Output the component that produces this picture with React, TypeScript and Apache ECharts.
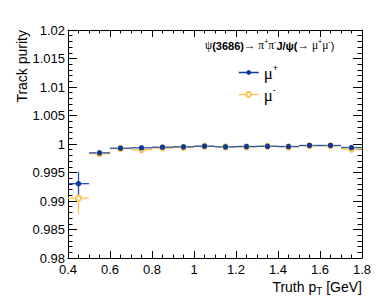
import React, { useEffect, useRef } from "react";
import * as echarts from "echarts";

// ---- data ----
const binCenters = [0.45, 0.55, 0.65, 0.75, 0.85, 0.95, 1.05, 1.15, 1.25, 1.35, 1.45, 1.55, 1.65, 1.75];
const binHalfWidth = 0.05;
const muPlusPurity = [0.99304, 0.99845, 0.99926, 0.99933, 0.99944, 0.99951, 0.99961, 0.9995, 0.99956, 0.9996, 0.99956, 0.99974, 0.99974, 0.99938];
const muPlusError = [0.0021, 0.0002, 0.0001, 0.0001, 0.0001, 0.0001, 0.0001, 0.0001, 0.0001, 0.0001, 0.0001, 0.0001, 0.0001, 0.0002];
const muMinusPurity = [0.9905, 0.9983, 0.9992, 0.999, 0.9993, 0.9994, 0.9996, 0.9995, 0.9995, 0.9996, 0.9995, 0.9997, 0.9997, 0.9991];
const muMinusError = [0.0028, 0.0003, 0.0001, 0.0001, 0.0001, 0.0001, 0.0001, 0.0001, 0.0001, 0.0001, 0.0001, 0.0001, 0.0001, 0.0005];
const xTickLabels = ["0.4", "0.6", "0.8", "1", "1.2", "1.4", "1.6", "1.8"];
const yTickLabels = ["0.98", "0.985", "0.99", "0.995", "1", "1.005", "1.01", "1.015", "1.02"];

const BLUE = "#0b3c9c";
const BLUE_BAR = "#2a52ad";
const YELLOW = "#fcc54f";

function errorBarSeries(name: string, vals: number[], errs: number[], color: string) {
  return {
    type: "custom",
    name,
    xAxisIndex: 0,
    yAxisIndex: 0,
    silent: true,
    data: binCenters.map((c, i) => [c, vals[i], errs[i], binHalfWidth]),
    renderItem: (params: any, api: any) => {
      const x = api.value(0);
      const y = api.value(1);
      const e = api.value(2);
      const w = api.value(3);
      const l = api.coord([x - w, y]);
      const r = api.coord([x + w, y]);
      const t = api.coord([x, y + e]);
      const b = api.coord([x, y - e]);
      return {
        type: "group",
        children: [
          { type: "line", shape: { x1: l[0], y1: l[1], x2: r[0], y2: r[1] }, style: { stroke: color, lineWidth: 1.3 } },
          { type: "line", shape: { x1: t[0], y1: t[1], x2: b[0], y2: b[1] }, style: { stroke: color, lineWidth: 1.3 } },
        ],
      };
    },
  };
}

function axisCommon(showLabel: boolean, isX: boolean) {
  return {
    type: "value",
    axisLine: { show: true, onZero: false, lineStyle: { color: "#000", width: 1 } },
    axisTick: { show: true, inside: true, length: isX ? 7 : 9, lineStyle: { color: "#000", width: 1 } },
    minorTick: { show: true, splitNumber: isX ? 4 : 5, length: isX ? 3.5 : 4.5, lineStyle: { color: "#000", width: 1 } },
    splitLine: { show: false },
    minorSplitLine: { show: false },
    axisLabel: {
      show: showLabel,
      color: "#000",
      fontSize: 13,
      fontFamily: "Liberation Sans, Arial, sans-serif",
      margin: isX ? 5 : 3,
      formatter: (v: number) => {
        const labels = isX ? xTickLabels : yTickLabels;
        const s = String(parseFloat(v.toFixed(4)));
        return labels.indexOf(s) >= 0 ? s : "";
      },
    },
  };
}

export default function App() {
  const ref = useRef<HTMLDivElement>(null);
  useEffect(() => {
    if (!ref.current) return;
    const chart = echarts.init(ref.current, undefined, { renderer: "svg" });
    const xBase = { min: 0.4, max: 1.8, interval: 0.2 };
    const yBase = { min: 0.98, max: 1.02, interval: 0.005 };
    const sans = "Liberation Sans, Arial, sans-serif";
    const serif = "Liberation Serif, DejaVu Serif, serif";
    chart.setOption({
      animation: false,
      backgroundColor: "#fff",
      grid: { left: 68, right: 19, top: 30, bottom: 45, containLabel: false },
      xAxis: [
        { ...axisCommon(true, true), ...xBase, position: "bottom" },
        { ...axisCommon(false, true), ...xBase, position: "top" },
      ],
      yAxis: [
        { ...axisCommon(true, false), ...yBase, position: "left" },
        { ...axisCommon(false, false), ...yBase, position: "right" },
      ],
      legend: {
        orient: "vertical",
        left: 233,
        top: 58,
        itemWidth: 20,
        itemHeight: 6,
        itemGap: 3,
        data: [
          { name: "μ+", lineStyle: { opacity: 1, width: 1.5, color: BLUE }, itemStyle: { color: BLUE } },
          { name: "μ-", lineStyle: { opacity: 1, width: 1.5, color: YELLOW } },
        ],
        formatter: (name: string) => (name === "μ+" ? "{m|μ}{s|+}" : "{m|μ}{s|-}"),
        textStyle: {
          color: "#000",
          rich: {
            m: { fontSize: 17, fontFamily: serif, color: "#000", verticalAlign: "bottom" },
            s: { fontSize: 9, fontFamily: sans, color: "#000", padding: [0, 0, 10, 0], verticalAlign: "bottom" },
          },
        },
      },
      graphic: [
        {
          type: "text",
          x: 22,
          y: 30,
          rotation: Math.PI / 2,
          style: { text: "Track purity", fontSize: 14, fontFamily: sans, fill: "#000", align: "right", verticalAlign: "middle" },
        },
        {
          type: "text",
          x: 362,
          y: 277,
          style: {
            text: "Truth p{sub|T} [GeV]",
            fontSize: 14,
            fontFamily: sans,
            fill: "#000",
            align: "right",
            verticalAlign: "top",
            rich: {
              sub: { fontSize: 10, fontFamily: sans, fill: "#000", padding: [9, 0, 0, 0], verticalAlign: "top" },
            },
          },
        },
        {
          type: "text",
          x: 205,
          y: 44.5,
          style: {
            text: "{g|ψ}{b|(3686)}{g|→ π}{s|+}{g|π}{s|-}{b|J/ψ(}{g|→ μ}{s|+}{g|μ}{s|-}{n|)}",
            fontSize: 11,
            fontFamily: sans,
            fill: "#000",
            align: "left",
            verticalAlign: "middle",
            rich: {
              g: { fontSize: 11.5, fontFamily: serif, fill: "#000", verticalAlign: "bottom" },
              b: { fontSize: 11, fontFamily: sans, fontWeight: "bold", fill: "#000", verticalAlign: "bottom" },
              n: { fontSize: 11, fontFamily: sans, fill: "#000", verticalAlign: "bottom" },
              s: { fontSize: 7, fontFamily: sans, fill: "#000", padding: [0, 0, 6, 0], verticalAlign: "bottom" },
            },
          },
        },
      ],
      series: [
        errorBarSeries("μ- bars", muMinusPurity, muMinusError, YELLOW),
        {
          type: "line",
          name: "μ-",
          data: binCenters.map((c, i) => [c, muMinusPurity[i]]),
          symbol: "emptyCircle",
          symbolSize: 5,
          itemStyle: { color: YELLOW, borderWidth: 1 },
          lineStyle: { opacity: 0 },
          silent: true,
        },
        errorBarSeries("μ+ bars", muPlusPurity, muPlusError, BLUE_BAR),
        {
          type: "line",
          name: "μ+",
          data: binCenters.map((c, i) => [c, muPlusPurity[i]]),
          symbol: "circle",
          symbolSize: 5.5,
          itemStyle: { color: BLUE },
          lineStyle: { opacity: 0 },
          silent: true,
        },
      ],
    });
    return () => chart.dispose();
  }, []);
  return <div ref={ref} style={{ position: "absolute", left: 0, top: 0, width: 381, height: 303 }} />;
}
